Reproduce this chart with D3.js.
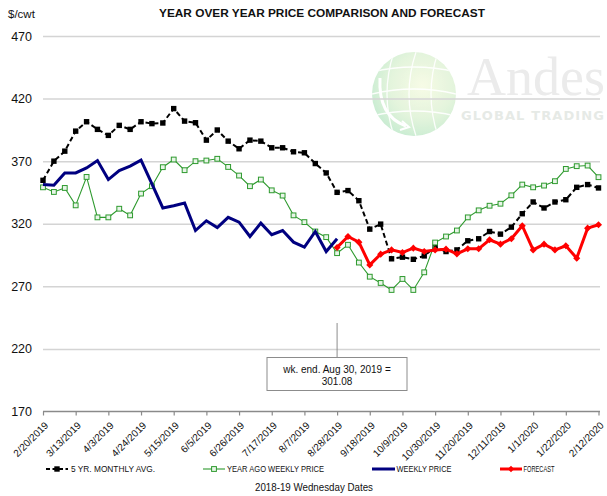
<!DOCTYPE html>
<html><head><meta charset="utf-8">
<script src="https://cdn.jsdelivr.net/npm/d3@7"></script>
<style>html,body{margin:0;padding:0;background:#fff;}svg{display:block;}</style>
</head><body><div id="chart"></div>
<script>
const weekStart = "2/20/2019";
const weekCount = 52;
const tickLabels = ["2/20/2019","3/13/2019","4/3/2019","4/24/2019","5/15/2019","6/5/2019","6/26/2019","7/17/2019","8/7/2019","8/28/2019","9/18/2019","10/9/2019","10/30/2019","11/20/2019","12/11/2019","1/1/2020","1/22/2020","2/12/2020"];
const yTicks = [170,220,270,320,370,420,470];
const fiveYrAvg = [354.7,370,378,394,401.5,395.4,390.6,398.6,395.4,401.5,400,400.5,412,402,400.7,386.8,394.9,386,379.9,386.8,386,380.7,380.7,377.5,376.7,368.1,360.6,345.1,346.5,338.4,315.7,319.7,292,293.3,291.6,294.3,301.3,297.8,299.1,306.4,308,313.8,311.7,317.3,328,337.4,332.6,337.4,339.2,349.1,351.3,348.6];
const yearAgo = [349.1,345.4,348.6,334.7,357.4,325.1,325.1,332,326.7,344.1,350,365.2,371.3,362.8,370,370.5,371.9,365.4,358.5,350,355.3,346.7,342.5,326.7,321.3,313.8,309.3,296.5,303.2,289,277.7,272.7,267.1,275.9,267.1,281.2,305,309.8,314.6,325.1,330.7,334.4,336,342.7,351.3,349.1,350.5,354,363.8,366,366.5,357.2];
const weekly = [351.3,350.7,360.6,360.6,364.6,370.5,355.3,362.5,366,370.8,351.8,332.6,334.4,336.6,314.6,322.4,317,325.1,321.3,309.8,320.5,311.2,314.6,305.3,301.3,313.8,297.8,308];
const forecastStart = 27;
const forecast = [301.08,309.8,305.3,287.1,295.7,299.1,297,300.5,297.8,299.1,299.7,295.9,300,300,307.2,303.7,308,318.4,299.1,303.7,299.1,302.4,292.5,316.5,319.2];
const legendLabels = ["5 YR. MONTHLY AVG.","YEAR AGO WEEKLY PRICE","WEEKLY PRICE","FORECAST"];
const annotationLines = ["wk. end. Aug 30, 2019  =","301.08"];

const W = 607, H = 496;
const parse = d3.utcParse("%m/%d/%Y");
const d0 = parse(weekStart);
const weeks = d3.range(weekCount).map(i => d3.utcDay.offset(d0, 7*i));
const tickDates = tickLabels.map(parse);

const svg = d3.select("#chart").append("svg").attr("width", W).attr("height", H)
  .style("font-family", "'Liberation Sans', Arial, sans-serif");

const x = d3.scaleUtc().domain([weeks[0], weeks[weeks.length-1]]).range([43, 598.5]);
const y = d3.scaleLinear().domain([170, 470]).range([411.5, 36]);

// watermark
const defs = svg.append("defs");
const rg = defs.append("radialGradient").attr("id","globe").attr("cx","60%").attr("cy","40%").attr("r","65%");
rg.append("stop").attr("offset","0%").attr("stop-color","#f7fbe6");
rg.append("stop").attr("offset","60%").attr("stop-color","#e3f4dc");
rg.append("stop").attr("offset","100%").attr("stop-color","#c9ecd2");
const wm = svg.append("g");
const gc = [414, 94], gr = 42;
wm.append("circle").attr("cx",gc[0]).attr("cy",gc[1]).attr("r",gr).attr("fill","url(#globe)");
const cp = defs.append("clipPath").attr("id","gclip");
cp.append("circle").attr("cx",gc[0]).attr("cy",gc[1]).attr("r",gr);
const gl = wm.append("g").attr("clip-path","url(#gclip)").attr("stroke","#ffffff").attr("stroke-width",1.3).attr("fill","none").attr("opacity",0.9);
[-22,0,22].forEach(o => gl.append("path").attr("d", `M${gc[0]-gr},${gc[1]+o} Q${gc[0]},${gc[1]+o-10} ${gc[0]+gr},${gc[1]+o}`));
[-20,2,24].forEach(o => gl.append("path").attr("d", `M${gc[0]+o},${gc[1]-gr} Q${gc[0]+o-14},${gc[1]} ${gc[0]+o},${gc[1]+gr}`));
wm.append("path").attr("d", `M${gc[0]-34},${gc[1]-16} Q${gc[0]-36},${gc[1]+22} ${gc[0]-8},${gc[1]+32}`)
  .attr("stroke","#ffffff").attr("stroke-width",3).attr("fill","none");
wm.append("path").attr("d", `M${gc[0]-12},${gc[1]+27} L${gc[0]-5},${gc[1]+33} L${gc[0]-14},${gc[1]+36}`)
  .attr("stroke","#ffffff").attr("stroke-width",2).attr("fill","none");
wm.append("text").attr("x",467).attr("y",95).text("Andes")
  .style("font-family","'Liberation Serif', 'DejaVu Serif', serif").style("font-size","54px").attr("fill","#ebebeb");
wm.append("text").attr("x",461).attr("y",120).text("GLOBAL TRADING")
  .style("font-family","'DejaVu Sans', sans-serif").style("font-size","13px").style("font-weight","bold")
  .attr("textLength",143).attr("lengthAdjust","spacing").attr("fill","#e6eae6");

// y grid
const yAxis = svg.append("g").attr("transform","translate(43,0)")
  .call(d3.axisLeft(y).tickValues(yTicks).tickSize(-557).tickPadding(11).tickFormat(d3.format("d")));
yAxis.select(".domain").remove();
yAxis.selectAll(".tick line").attr("stroke","#d4d4d4").attr("stroke-width",1.5)
  .attr("display", d => d === 170 ? "none" : null);
yAxis.selectAll(".tick text").style("font-size","12.5px").attr("fill","#111")
  .style("font-family","'Liberation Sans', Arial, sans-serif");

// x axis
const xAxis = svg.append("g").attr("transform", `translate(0,${y(170)})`)
  .call(d3.axisBottom(x).tickValues(tickDates).tickSize(4).tickFormat((d,i) => tickLabels[i]));
xAxis.select(".domain").attr("stroke","#8a8a8a").attr("stroke-width",1.5).attr("d", `M43,0H600`);
xAxis.selectAll(".tick line").attr("stroke","#8a8a8a").attr("stroke-width",1.2);
xAxis.selectAll(".tick text").attr("x",0).attr("y",0).attr("dy","0.35em")
  .attr("transform","translate(3,12) rotate(-45)").style("text-anchor","end")
  .style("font-size","10px").attr("fill","#111").style("font-family","'Liberation Sans', Arial, sans-serif");

// annotation
const ax = x(weeks[forecastStart]);
svg.append("line").attr("x1",ax).attr("x2",ax).attr("y1",323).attr("y2",357).attr("stroke","#8c8c8c").attr("stroke-width",1);
svg.append("rect").attr("x",267).attr("y",357.5).attr("width",140).attr("height",33).attr("fill","#fff").attr("stroke","#8c8c8c").attr("stroke-width",1);
annotationLines.forEach((t,i) => svg.append("text").attr("x",337).attr("y",373 + i*11.5).attr("text-anchor","middle")
  .style("font-size","10px").attr("fill","#111").text(t));

const line = d3.line().x(d => x(d.date)).y(d => y(d.v));
const mk = (vals, off) => vals.map((v,i) => ({date: weeks[i+off], v}));

const blackData = mk(fiveYrAvg, 0), greenData = mk(yearAgo, 0), blueData = mk(weekly, 0), redData = mk(forecast, forecastStart);

// black dashed
svg.append("path").datum(blackData).attr("d", line).attr("fill","none").attr("stroke","#000").attr("stroke-width",2).attr("stroke-dasharray","5,3");
svg.append("g").selectAll("rect").data(blackData).join("rect")
  .attr("x", d => x(d.date)-2.7).attr("y", d => y(d.v)-2.7).attr("width",5.4).attr("height",5.4).attr("fill","#000");

// green
const green = "#2e9a2e";
svg.append("path").datum(greenData).attr("d", line).attr("fill","none").attr("stroke",green).attr("stroke-width",1.1);
svg.append("g").selectAll("rect").data(greenData).join("rect")
  .attr("x", d => x(d.date)-2.4).attr("y", d => y(d.v)-2.4).attr("width",4.8).attr("height",4.8)
  .attr("fill","#e8f5e8").attr("stroke",green).attr("stroke-width",1);

// blue
svg.append("path").datum(blueData).attr("d", line).attr("fill","none").attr("stroke","#000080").attr("stroke-width",3).attr("stroke-linejoin","miter");

// red
svg.append("path").datum(redData).attr("d", line).attr("fill","none").attr("stroke","#ff0000").attr("stroke-width",3);
svg.append("g").selectAll("path").data(redData).join("path")
  .attr("d", d3.symbol(d3.symbolDiamond2 || d3.symbolSquare, 32))
  .attr("transform", d => `translate(${x(d.date)},${y(d.v)}) rotate(${d3.symbolDiamond2 ? 0 : 45})`)
  .attr("fill","#ff0000");

// title
svg.append("text").attr("x",322).attr("y",17).attr("text-anchor","middle")
  .style("font-size","11px").style("font-weight","bold").attr("fill","#111")
  .attr("textLength",326).attr("lengthAdjust","spacingAndGlyphs")
  .text("YEAR OVER YEAR PRICE COMPARISON AND FORECAST");
svg.append("text").attr("x",8).attr("y",18).style("font-size","11.5px").attr("fill","#111").text("$/cwt");

// legend
const ly = 469;
const lg = svg.append("g").style("font-size","8.5px");
lg.append("line").attr("x1",46).attr("x2",68).attr("y1",ly).attr("y2",ly).attr("stroke","#000").attr("stroke-width",2).attr("stroke-dasharray","4,2.5");
lg.append("rect").attr("x",54.3).attr("y",ly-2.7).attr("width",5.4).attr("height",5.4).attr("fill","#000");
lg.append("text").attr("x",71).attr("y",ly+3).attr("fill","#111").attr("textLength",84).attr("lengthAdjust","spacingAndGlyphs").text(legendLabels[0]);
lg.append("line").attr("x1",203).attr("x2",225).attr("y1",ly).attr("y2",ly).attr("stroke",green).attr("stroke-width",1.1);
lg.append("rect").attr("x",211.6).attr("y",ly-2.4).attr("width",4.8).attr("height",4.8).attr("fill","#e8f5e8").attr("stroke",green);
lg.append("text").attr("x",227).attr("y",ly+3).attr("fill","#111").attr("textLength",97).attr("lengthAdjust","spacingAndGlyphs").text(legendLabels[1]);
lg.append("line").attr("x1",372).attr("x2",395).attr("y1",ly).attr("y2",ly).attr("stroke","#000080").attr("stroke-width",3);
lg.append("text").attr("x",396.5).attr("y",ly+3).attr("fill","#111").attr("textLength",55).attr("lengthAdjust","spacingAndGlyphs").text(legendLabels[2]);
lg.append("line").attr("x1",500).attr("x2",522).attr("y1",ly).attr("y2",ly).attr("stroke","#ff0000").attr("stroke-width",3);
lg.append("path").attr("d", d3.symbol(d3.symbolSquare, 20)).attr("transform",`translate(511,${ly}) rotate(45)`).attr("fill","#ff0000");
lg.append("text").attr("x",523.5).attr("y",ly+3).attr("fill","#111").attr("textLength",31).attr("lengthAdjust","spacingAndGlyphs").text(legendLabels[3]);

svg.append("text").attr("x",314).attr("y",491).attr("text-anchor","middle").style("font-size","10px").attr("fill","#111")
  .attr("textLength",118).attr("lengthAdjust","spacingAndGlyphs").text("2018-19 Wednesday Dates");
</script></body></html>
